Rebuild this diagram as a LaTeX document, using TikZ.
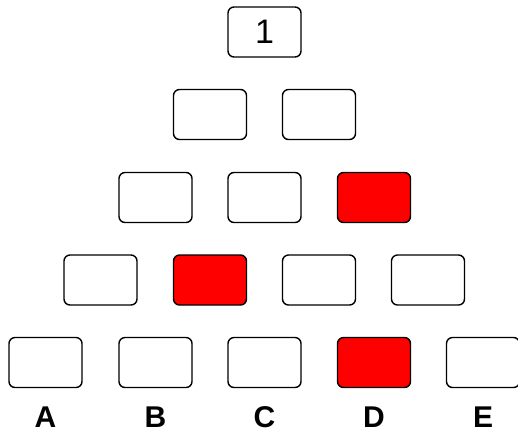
\documentclass[tikz,border=0pt]{standalone}
\usepackage{fontspec}
\setmainfont{Liberation Sans}
\begin{document}
\begin{tikzpicture}[x=1pt,y=-1pt,
  cell/.style={draw=black,line width=1.4pt,rounded corners=6pt,
    minimum width=73pt,minimum height=50pt,inner sep=0pt,fill=white,
    font=\fontsize{34}{36}\selectfont},
  hit/.style={cell,fill=red},
  col/.style={anchor=base,inner sep=0pt,font=\bfseries\fontsize{30}{32}\selectfont}]
\useasboundingbox (0,0) rectangle (518,432);
% row 1
\node[cell] (r1c1) at (264.5,32) {1};
% row 2
\node[cell] (r2c1) at (210,114.5) {};
\node[cell] (r2c2) at (319,114.5) {};
% row 3
\node[cell] (r3c1) at (155.5,197.5) {};
\node[cell] (r3c2) at (264.5,197.5) {};
\node[hit]  (r3c3) at (374,197.5) {};
% row 4
\node[cell] (r4c1) at (100.5,280) {};
\node[hit]  (r4c2) at (210,280) {};
\node[cell] (r4c3) at (319,280) {};
\node[cell] (r4c4) at (428,280) {};
% row 5
\node[cell] (r5c1) at (45.5,362.5) {};
\node[cell] (r5c2) at (155.5,362.5) {};
\node[cell] (r5c3) at (264.5,362.5) {};
\node[hit]  (r5c4) at (374,362.5) {};
\node[cell] (r5c5) at (483,362.5) {};
% column labels, set on a common baseline
\node[col] (la) at (45.5,427) {A};
\node[col] (lb) at (155.5,427) {B};
\node[col] (lc) at (264.5,427) {C};
\node[col] (ld) at (374,427) {D};
\node[col] (le) at (483,427) {E};
\end{tikzpicture}
\end{document}
